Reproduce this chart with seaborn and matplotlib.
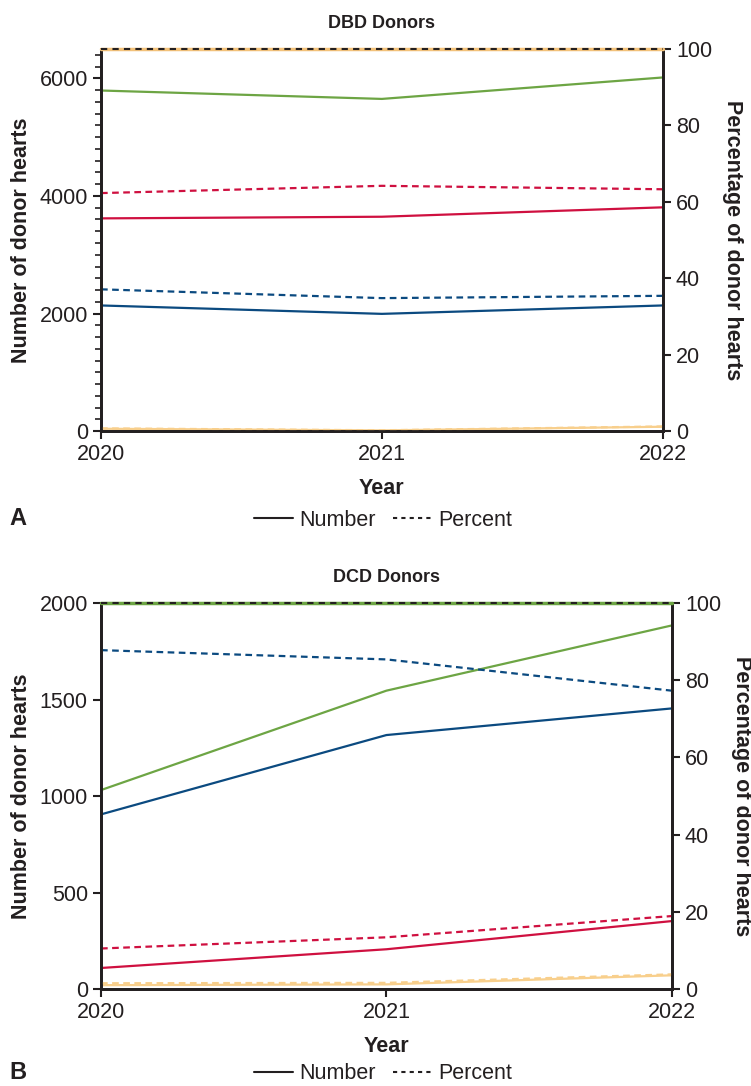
import numpy as np
import pandas as pd
import seaborn as sns
import matplotlib.pyplot as plt
from matplotlib.lines import Line2D
from matplotlib.ticker import MultipleLocator

# %% data
years = [2020, 2021, 2022]

# DBD donors
dbd_num_blue = [2137, 1994, 2137]
dbd_num_red = [3619, 3647, 3807]
dbd_num_orange = [39, 11, 73]
dbd_num_green = [5795, 5652, 6017]
dbd_pct_blue = [37.1, 34.8, 35.4]
dbd_pct_red = [62.3, 64.2, 63.3]
dbd_pct_orange = [0.7, 0.2, 1.2]
dbd_pct_green = [100, 100, 100]

# DCD donors
dcd_num_blue = [905, 1316, 1454]
dcd_num_red = [109, 206, 352]
dcd_num_orange = [20, 24, 71]
dcd_num_green = [1031, 1546, 1884]
dcd_pct_blue = [87.8, 85.4, 77.3]
dcd_pct_red = [10.5, 13.4, 18.9]
dcd_pct_orange = [1.5, 1.6, 3.8]
dcd_pct_green = [100, 100, 100]

groups = ['blue', 'red', 'orange', 'green']
pal = {'blue': '#0B4A80', 'red': '#CF1040', 'orange': '#F8CF8C', 'green': '#6DA544'}


def to_long(vals):
    rows = []
    for g, v in zip(groups, vals):
        for y, x in zip(years, v):
            rows.append({'year': y, 'group': g, 'value': x})
    return pd.DataFrame(rows)


dbd_num = to_long([dbd_num_blue, dbd_num_red, dbd_num_orange, dbd_num_green])
dbd_pct = to_long([dbd_pct_blue, dbd_pct_red, dbd_pct_orange, dbd_pct_green])
dcd_num = to_long([dcd_num_blue, dcd_num_red, dcd_num_orange, dcd_num_green])
dcd_pct = to_long([dcd_pct_blue, dcd_pct_red, dcd_pct_orange, dcd_pct_green])

sns.set_style('ticks')
plt.rcParams['font.family'] = ['Liberation Sans', 'DejaVu Sans']
plt.rcParams['axes.linewidth'] = 2.0
plt.rcParams['xtick.major.width'] = 1.5
plt.rcParams['ytick.major.width'] = 1.5
plt.rcParams['ytick.minor.width'] = 1.2

FS = 15.5
ink = '#231f20'

fig = plt.figure(figsize=(7.51, 10.86), dpi=100)
axA = fig.add_axes([0.1345, 0.6031, 0.748, 0.3517])
axB = fig.add_axes([0.1345, 0.0893, 0.760, 0.3554])

panels = [
    (axA, dbd_num, dbd_pct, dbd_pct_green, 6500, 2000, 200, 'DBD Donors', 'A', '#F3C27A', 0.082),
    (axB, dcd_num, dcd_pct, dcd_pct_green, 2000, 500, None, 'DCD Donors', 'B', '#6DA544', 0.078),
]

for ax, num, pct, total_pct, ymax, major, minor, title, letter, topc, off in panels:
    ax2 = ax.twinx()
    sns.lineplot(data=num, x='year', y='value', hue='group',
                 palette=pal, ax=ax, legend=False, lw=1.6)
    sns.lineplot(data=pct[pct.group != 'green'], x='year', y='value', hue='group',
                 palette=pal, ax=ax2, legend=False, lw=1.6)
    for l in ax2.get_lines():
        l.set_dashes((3, 2))
    # 100 % line for the total, sits on the top edge
    ax2.plot(years, total_pct, color=topc, lw=2.5, clip_on=False, zorder=5)
    ax2.plot(years, total_pct, color=ink, lw=1.5, dashes=(3, 2.5), clip_on=False, zorder=6)

    ax.set_xlim(2020, 2022)
    ax.set_ylim(0, ymax)
    ax2.set_ylim(0, 100)
    ax.set_xticks(years)
    ax.yaxis.set_major_locator(MultipleLocator(major))
    if minor:
        ax.yaxis.set_minor_locator(MultipleLocator(minor))
        ax.tick_params(axis='y', which='minor', length=4, color=ink)
    ax2.yaxis.set_major_locator(MultipleLocator(20))
    for a in (ax, ax2):
        a.spines['top'].set_visible(False)
        a.tick_params(labelsize=FS, length=6, color=ink, labelcolor=ink)
        for s in a.spines.values():
            s.set_color(ink)

    ax.set_xlabel('Year', fontsize=FS, fontweight='bold', labelpad=9, color=ink)
    ax.set_ylabel('Number of donor hearts', fontsize=FS, fontweight='bold', labelpad=5, color=ink)
    ax2.set_ylabel('Percentage of donor hearts', fontsize=FS, fontweight='bold',
                   rotation=270, labelpad=22, color=ink)
    ax.set_title(title, fontsize=13, fontweight='bold', pad=15, color=ink)

    # legend and panel letter under each panel
    bb = ax.get_position()
    handles = [Line2D([], [], color=ink, lw=1.5),
               Line2D([], [], color=ink, lw=1.5, dashes=(2, 2))]
    fig.legend(handles, ['Number', 'Percent'], loc='center',
               bbox_to_anchor=(0.51, bb.y0 - off), ncol=2, frameon=False,
               fontsize=15.5, handlelength=1.8, columnspacing=0.8, handletextpad=0.3,
               labelcolor=ink, borderpad=0.1)
    fig.text(0.012, bb.y0 - off + 0.001, letter, fontsize=17, fontweight='bold',
             va='center', color=ink)

fig.savefig('out.png', dpi=100)
